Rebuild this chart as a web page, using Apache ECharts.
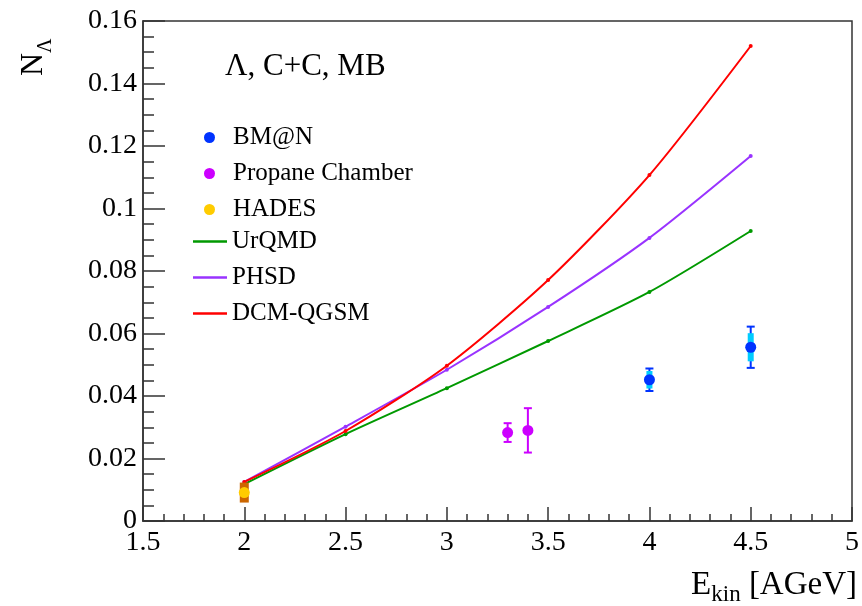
<!DOCTYPE html>
<html>
<head>
<meta charset="utf-8">
<script src="https://cdn.jsdelivr.net/npm/echarts@6/dist/echarts.min.js"></script>
<style>
    html, body {margin: 0; padding: 0; background: #fff;}
    #chart {width: 862px; height: 606px;}
</style>
</head>
<body>
<div id="chart"></div>
<script>
    //数据 ...............................
    var modelX = [2.0, 2.5, 3.0, 3.5, 4.0, 4.5];
    var urqmdY = [0.0118, 0.0278, 0.0425, 0.0576, 0.0733, 0.0928];
    var phsdY = [0.0125, 0.0302, 0.0484, 0.0685, 0.0906, 0.1168];
    var dcmY = [0.0125, 0.0288, 0.0497, 0.0771, 0.1107, 0.1520];

    var bmnX = [4.0, 4.5];
    var bmnY = [0.0452, 0.0556];
    var bmnStat = [0.0036, 0.0066];
    var bmnSys = [0.0028, 0.0045];

    var propX = [3.3, 3.4];
    var propY = [0.0283, 0.0290];
    var propStat = [0.0030, 0.0071];

    var hadesX = [2.0];
    var hadesY = [0.0091];
    var hadesStat = [0.0006];
    var hadesSys = [0.0032];

    var xTicks = {min: 1.5, max: 5, interval: 0.5};
    var yTicks = {min: 0, max: 0.16, interval: 0.02};

    var FONT = 'Liberation Serif';

    function pairs(xs, ys) {
        return xs.map(function (x, i) { return [x, ys[i]]; });
    }
    function triples(xs, ys, es) {
        return xs.map(function (x, i) { return [x, ys[i], es[i]]; });
    }

    //误差棒
    function errBar(params, api) {
        var x = api.value(0), y = api.value(1), e = api.value(2);
        var top = api.coord([x, y + e]);
        var bot = api.coord([x, y - e]);
        var c = api.visual('color');
        var half = 4;
        var st = {stroke: c, lineWidth: 2};
        return {
            type: 'group',
            children: [
                {type: 'line', shape: {x1: top[0], y1: top[1], x2: bot[0], y2: bot[1]}, style: st},
                {type: 'line', shape: {x1: top[0] - half, y1: top[1], x2: top[0] + half, y2: top[1]}, style: st},
                {type: 'line', shape: {x1: bot[0] - half, y1: bot[1], x2: bot[0] + half, y2: bot[1]}, style: st}
            ]
        };
    }
    //系统误差框
    function sysBox(w) {
        return function (params, api) {
            var x = api.value(0), y = api.value(1), s = api.value(2);
            var top = api.coord([x, y + s]);
            var bot = api.coord([x, y - s]);
            return {
                type: 'rect',
                shape: {x: top[0] - w / 2, y: top[1], width: w, height: bot[1] - top[1]},
                style: {fill: api.visual('color')}
            };
        };
    }

    function modelLine(name, ys, color) {
        return {
            name: name,
            type: 'line',
            data: pairs(modelX, ys),
            smooth: 0.25,
            symbol: 'circle',
            symbolSize: 4,
            itemStyle: {color: color},
            lineStyle: {color: color, width: 2},
            z: 2,
            animation: false
        };
    }

    function points(name, xs, ys, color) {
        return {
            name: name, type: 'scatter', symbol: 'circle', symbolSize: 11,
            data: pairs(xs, ys), itemStyle: {color: color, opacity: 1}, z: 5
        };
    }

    var axisLabelStyle = {fontFamily: FONT, fontSize: 28, color: '#000'};
    var legendText = {fontFamily: FONT, fontSize: 25, color: '#000', lineHeight: 24};

    var option = {
        animation: false,
        backgroundColor: '#fff',
        grid: {
            left: 143, right: 5, top: 21, bottom: 85,
            show: true, borderColor: '#333', borderWidth: 1.5
        },
        title: {
            text: 'Λ, C+C, MB',
            left: 220, top: 46,
            textStyle: {fontFamily: FONT, fontSize: 31, fontWeight: 'normal', color: '#000'}
        },
        legend: [{
            data: ['BM@N', 'Propane Chamber', 'HADES'],
            orient: 'vertical',
            left: 204, top: 125, padding: 0,
            icon: 'circle',
            itemWidth: 11, itemHeight: 11,
            itemGap: 11,
            textStyle: Object.assign({padding: [0, 0, 0, 13]}, legendText)
        }, {
            data: ['UrQMD', 'PHSD', 'DCM-QGSM'],
            orient: 'vertical',
            left: 193, top: 229, padding: 0,
            icon: 'rect',
            itemWidth: 34, itemHeight: 2.5,
            itemGap: 11,
            textStyle: legendText
        }],
        xAxis: {
            type: 'value',
            min: xTicks.min, max: xTicks.max, interval: xTicks.interval,
            axisLine: {onZero: false, lineStyle: {color: '#333', width: 1.5}},
            axisTick: {inside: true, length: 14, lineStyle: {color: '#333', width: 1.5}},
            minorTick: {show: true, splitNumber: 5, length: 7, lineStyle: {color: '#333', width: 1.5}},
            splitLine: {show: false},
            axisLabel: Object.assign({margin: 8}, axisLabelStyle)
        },
        yAxis: {
            type: 'value',
            min: yTicks.min, max: yTicks.max, interval: yTicks.interval,
            axisLine: {show: true, lineStyle: {color: '#333', width: 1.5}},
            axisTick: {show: true, inside: true, length: 22, lineStyle: {color: '#333', width: 1.5}},
            minorTick: {show: true, splitNumber: 4, length: 11, lineStyle: {color: '#333', width: 1.5}},
            splitLine: {show: false},
            axisLabel: Object.assign({
                margin: 6,
                formatter: function (v) { return String(+v.toFixed(2)); }
            }, axisLabelStyle)
        },
        graphic: [{
            type: 'text',
            x: 50, y: 76,
            rotation: Math.PI / 2,
            style: {
                text: '{a|N}{b|Λ}',
                textAlign: 'left',
                textVerticalAlign: 'bottom',
                rich: {
                    a: {fontFamily: FONT, fontSize: 32, color: '#000', verticalAlign: 'bottom', lineHeight: 34},
                    b: {fontFamily: FONT, fontSize: 20, color: '#000', verticalAlign: 'bottom', lineHeight: 34, padding: [0, 0, -6, 0]}
                }
            }
        }, {
            type: 'text',
            x: 857, y: 602,
            style: {
                text: '{a|E}{b|kin}{a| [AGeV]}',
                textAlign: 'right',
                textVerticalAlign: 'bottom',
                rich: {
                    a: {fontFamily: FONT, fontSize: 33, color: '#000', verticalAlign: 'bottom', lineHeight: 36},
                    b: {fontFamily: FONT, fontSize: 23, color: '#000', verticalAlign: 'bottom', lineHeight: 36, padding: [0, 0, -4, 0]}
                }
            }
        }],
        series: [
            modelLine('UrQMD', urqmdY, '#009900'),
            modelLine('PHSD', phsdY, '#9933ff'),
            modelLine('DCM-QGSM', dcmY, '#ff0000'),
            {
                name: 'BM@N sys', type: 'custom', renderItem: sysBox(6),
                data: triples(bmnX, bmnY, bmnSys), itemStyle: {color: '#00ccff'}, z: 3
            },
            {
                name: 'HADES sys', type: 'custom', renderItem: sysBox(9),
                data: triples(hadesX, hadesY, hadesSys), itemStyle: {color: '#cc6600'}, z: 3
            },
            {
                name: 'BM@N stat', type: 'custom', renderItem: errBar,
                data: triples(bmnX, bmnY, bmnStat), itemStyle: {color: '#0033ff'}, z: 2
            },
            {
                name: 'Propane stat', type: 'custom', renderItem: errBar,
                data: triples(propX, propY, propStat), itemStyle: {color: '#cc00ff'}, z: 4
            },
            {
                name: 'HADES stat', type: 'custom', renderItem: errBar,
                data: triples(hadesX, hadesY, hadesStat), itemStyle: {color: '#ffcc00'}, z: 4
            },
            points('BM@N', bmnX, bmnY, '#0033ff'),
            points('Propane Chamber', propX, propY, '#cc00ff'),
            points('HADES', hadesX, hadesY, '#ffcc00')
        ]
    };

    var chart = echarts.init(document.getElementById('chart'), null, {renderer: 'canvas'});
    chart.setOption(option);
</script>
</body>
</html>
